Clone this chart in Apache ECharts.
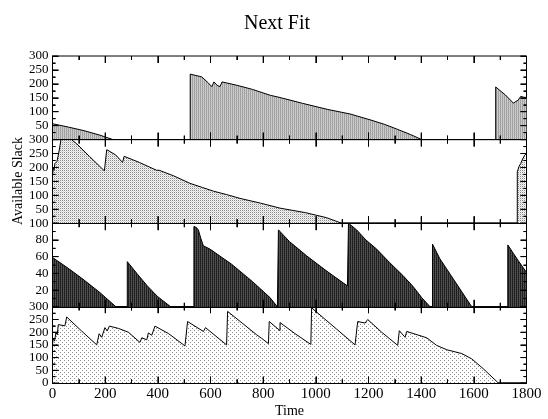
<!DOCTYPE html>
<html>
<head>
<meta charset="utf-8">
<script src="https://cdn.jsdelivr.net/npm/echarts@6/dist/echarts.min.js"></script>
<style>html,body{margin:0;padding:0;background:#fff}#c{width:548px;height:419px}</style>
</head>
<body>
<div id="c"></div>
<script>
// ---- data ----
const titleText = 'Next Fit';
const xName = 'Time';
const yName = 'Available Slack';
const xMajor = [0, 200, 400, 600, 800, 1000, 1200, 1400, 1600, 1800];
const xMinor = [100, 300, 500, 700, 900, 1100, 1300, 1500, 1700];
const yMajor300 = [0, 50, 100, 150, 200, 250, 300];
const yMinor300 = [25, 75, 125, 175, 225, 275];
const yMajor100 = [0, 20, 40, 60, 80, 100];
const yMinor100 = [10, 30, 50, 70, 90];

const panel1X = [0, 60, 120, 180, 230, 523, 523, 567, 590, 605, 613, 625, 636, 644, 700, 760, 827, 864, 950, 1046, 1130, 1206, 1260, 1307, 1360, 1402, 1683, 1683, 1720, 1750, 1760, 1768, 1778, 1790, 1800];
const panel1Y = [57, 45, 32, 16, 0, 0, 235, 225, 205, 190, 207, 195, 190, 207, 195, 180, 159, 151, 130, 108, 92, 71, 55, 38, 18, 0, 0, 189, 160, 131, 137, 141, 155, 152, 151];

const panel2X = [0, 3, 6, 9, 13, 17, 22, 27, 32, 72, 92, 140, 197, 206, 240, 266, 272, 330, 395, 400, 405, 460, 522, 570, 611, 660, 712, 790, 864, 960, 1040, 1098, 1765, 1765, 1772, 1778, 1783, 1788, 1793, 1800];
const panel2Y = [170, 200, 190, 214, 210, 222, 244, 270, 300, 300, 285, 240, 188, 264, 245, 218, 240, 218, 190, 186, 190, 170, 143, 128, 115, 103, 89, 72, 54, 38, 20, 0, 0, 184, 205, 214, 226, 230, 244, 250];

const panel3X = [0, 60, 120, 180, 241, 284, 284, 320, 360, 400, 449, 537, 537, 546, 554, 563, 573, 598, 680, 760, 826, 854, 858, 858, 900, 965, 1040, 1120, 1124, 1124, 1155, 1190, 1231, 1280, 1332, 1370, 1402, 1434, 1443, 1443, 1470, 1510, 1550, 1592, 1729, 1729, 1750, 1769, 1785, 1800];
const panel3Y = [59, 46, 32, 17, 0, 0, 54, 40, 25, 12, 0, 0, 96, 95, 92, 82, 73, 69, 51, 30, 11, 0, 0, 92, 78, 61, 43, 25, 25, 100, 92, 80, 69, 53, 37, 24, 11, 0, 0, 75, 58, 39, 20, 0, 0, 74, 64, 55, 48, 41];

const panel4X = [0, 3, 8, 13, 18, 22, 47, 54, 54, 110, 168, 177, 187, 199, 208, 216, 250, 288, 332, 339, 358, 364, 377, 389, 440, 503, 510, 513, 573, 581, 661, 665, 720, 775, 794, 820, 823, 864, 864, 920, 981, 984, 1079, 1149, 1153, 1159, 1187, 1197, 1250, 1311, 1317, 1339, 1345, 1421, 1459, 1497, 1554, 1592, 1636, 1693, 1800];
const panel4Y = [153, 175, 165, 200, 190, 230, 225, 229, 260, 205, 150, 194, 180, 218, 205, 224, 215, 200, 160, 178, 170, 197, 188, 224, 195, 146, 143, 242, 203, 218, 150, 282, 236, 190, 176, 155, 242, 206, 238, 195, 152, 296, 212, 150, 188, 242, 236, 250, 200, 148, 206, 180, 203, 178, 148, 131, 116, 95, 56, 0, 0];

const panelsX = [panel1X, panel2X, panel3X, panel4X];
const panelsY = [panel1Y, panel2Y, panel3Y, panel4Y];
const panelMax = [300, 300, 100, 300];
const panelStep = [50, 50, 20, 50];
const panelYMajor = [yMajor300, yMajor300, yMajor100, yMajor300];
const panelYMinor = [yMinor300, yMinor300, yMinor100, yMinor300];

// ---- patterns ----
function pattern(w, h, bg, cells) {
  const c = document.createElement('canvas');
  c.width = w; c.height = h;
  const g = c.getContext('2d');
  g.fillStyle = bg; g.fillRect(0, 0, w, h);
  cells.forEach(([x, y, col]) => { g.fillStyle = col; g.fillRect(x, y, 1, 1); });
  return { image: c, repeat: 'repeat' };
}
const pats = [
  pattern(2, 2, '#d2d2d2', [[0,0,'#9a9a9a'],[0,1,'#a8a8a8'],[1,1,'#c4c4c4']]),
  pattern(2, 2, '#f4f4f4', [[0,0,'#8a8a8a'],[1,1,'#d6d6d6']]),
  pattern(2, 2, '#1e1e1e', [[1,0,'#575757'],[1,1,'#4a4a4a']]),
  pattern(4, 4, '#ffffff', [[0,0,'#8c8c8c'],[2,2,'#8c8c8c']])
];

const font = 'Liberation Serif';
const L = 52.5, W = 474, T0 = 56, H = 83.6;
const XMAX = 1800;
const grids = [], xAxes = [], yAxes = [], series = [];
const black = { color: '#000', width: 1 };
const GAP = ['-', '-'];

for (let i = 0; i < 4; i++) {
  grids.push({ left: L, width: W, top: T0 + i * H, height: H, show: true,
    borderColor: '#000', borderWidth: 1, backgroundColor: 'transparent' });
  const isLast = i === 3;
  const maxV = panelMax[i];
  xAxes.push({
    gridIndex: i, type: 'value', min: 0, max: XMAX, interval: 200, position: 'bottom', z: 10,
    axisLine: { show: true, onZero: false, lineStyle: black },
    axisTick: { show: false }, splitLine: { show: false },
    axisLabel: { show: isLast, color: '#000', fontFamily: font, fontSize: 15, margin: 4,
      formatter: v => String(v) },
    name: isLast ? xName : '', nameLocation: 'middle', nameGap: 21,
    nameTextStyle: { color: '#000', fontFamily: font, fontSize: 14 }
  });
  const yBase = {
    gridIndex: i, type: 'value', min: 0, max: maxV, interval: panelStep[i], position: 'left', z: 10,
    axisLine: { show: true, onZero: false, lineStyle: black },
    axisTick: { show: false }, splitLine: { show: false }
  };
  yAxes.push(Object.assign({}, yBase, {
    axisLabel: { show: true, color: '#000', fontFamily: font, fontSize: 13, margin: 4,
      showMinLabel: true, showMaxLabel: true, hideOverlap: false,
      formatter: v => (v === maxV || v === 0) ? '' : String(v) }
  }));
  yAxes.push(Object.assign({}, yBase, {
    axisLine: { show: false },
    axisLabel: { show: true, color: '#000', fontFamily: font, fontSize: 13, margin: 4,
      showMinLabel: true, showMaxLabel: true, hideOverlap: false,
      formatter: v => (v === maxV || (v === 0 && isLast)) ? String(v) : '' }
  }));

  // tick segments in data units (pixel length converted through the panel scale)
  const xLen = px => px * maxV / H;
  const yLen = px => px * XMAX / W;
  const segs = [];
  const addX = (list, px) => list.forEach(v => {
    segs.push([[v, 0], [v, xLen(px)]], [[v, maxV], [v, maxV - xLen(px)]]);
  });
  const addY = (list, px) => list.forEach(v => {
    segs.push([[0, v], [yLen(px), v]], [[XMAX, v], [XMAX - yLen(px), v]]);
  });
  addX(xMajor, 7); addX(xMinor, 4);
  addY(panelYMajor[i], 6); addY(panelYMinor[i], 3);

  const pts = panelsX[i].map((x, k) => [x, panelsY[i][k]]);
  series.push({
    type: 'line', xAxisIndex: i, yAxisIndex: 2 * i, data: pts,
    symbol: 'none', showSymbol: false, clip: true, z: 1,
    lineStyle: { color: '#000', width: 1 },
    areaStyle: { color: pats[i], opacity: 1 },
    markLine: {
      silent: true, symbol: ['none', 'none'], animation: false, z: 6,
      label: { show: false }, emphasis: { disabled: true },
      lineStyle: { color: '#000', width: 1, type: 'solid' },
      data: segs.map(s => [{ coord: s[0] }, { coord: s[1] }])
    }
  });

  const tickPts = [];
  segs.forEach(s => tickPts.push(s[0], s[1], GAP));
  series.push({
    type: 'line', xAxisIndex: i, yAxisIndex: 2 * i, data: tickPts,
    symbol: 'none', showSymbol: false, connectNulls: false, clip: false, z: 5, silent: true,
    lineStyle: { color: '#000', width: 1 }
  });
}

const chart = echarts.init(document.getElementById('c'), null, { renderer: 'canvas' });
chart.setOption({
  animation: false,
  backgroundColor: '#fff',
  title: { text: titleText, left: 272, top: 9, textAlign: 'center',
    textStyle: { fontFamily: font, fontSize: 20, fontWeight: 'normal', color: '#000' } },
  graphic: [{ type: 'text', x: 18, y: 181, rotation: Math.PI / 2, z: 20,
    style: { text: yName, font: '14px "Liberation Serif"', fill: '#000', textAlign: 'center', textVerticalAlign: 'middle' } }],
  grid: grids, xAxis: xAxes, yAxis: yAxes, series: series
});
</script>
</body>
</html>
